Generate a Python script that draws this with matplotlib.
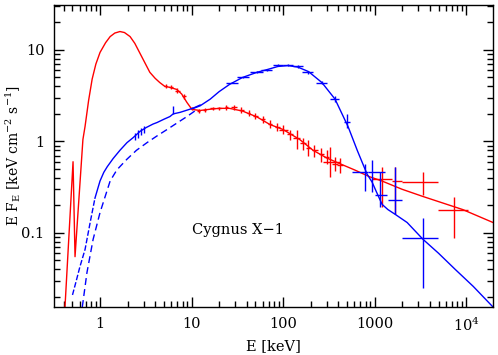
import numpy as np
import matplotlib
matplotlib.use("Agg")
from matplotlib import pyplot as plt
from matplotlib.ticker import LogLocator, FuncFormatter, NullFormatter

plt.rcParams['font.family'] = ['DejaVu Serif']
plt.rcParams['mathtext.fontset'] = 'dejavuserif'

# soft state (red) model curve
E_red = [0.414, 0.507, 0.533, 0.65, 0.686, 0.75, 0.82, 0.9, 1.0, 1.15, 1.29, 1.45, 1.65,
         1.85, 2.13, 2.4, 2.7, 3.1, 3.5, 4.0, 4.5, 5.1, 5.8, 6.9, 7.8, 8.9, 10.1, 12.4,
         16, 20, 26, 36, 52, 72, 100, 152, 213, 300, 420, 600, 890, 1200, 2000, 3390,
         5000, 9200, 19700]
F_red = [0.0155, 0.6, 0.055, 1.05, 1.46, 2.8, 4.8, 7.0, 9.4, 12.0, 14.0, 15.3, 15.9,
         15.5, 14.0, 11.8, 9.4, 7.2, 5.7, 4.9, 4.4, 4.0, 3.9, 3.7, 3.3, 2.67, 2.24, 2.18,
         2.25, 2.3, 2.3, 2.15, 1.85, 1.53, 1.35, 1.05, 0.8, 0.66, 0.57, 0.49, 0.41, 0.37,
         0.3, 0.25, 0.22, 0.18, 0.13]

# soft state data points
E_rc = [5.2, 6.0, 7.0, 8.2, 10, 12, 14, 17, 20, 24, 29, 35, 42, 50, 60, 72, 86, 100,
        120, 142, 165, 188, 220, 260, 300, 327, 370, 420,
        1200, 1675, 3390, 7400]
F_rc = [4.0, 3.9, 3.6, 3.1, 2.3, 2.15, 2.2, 2.3, 2.3, 2.35, 2.35, 2.2, 2.05, 1.9, 1.75,
        1.55, 1.45, 1.35, 1.2, 1.08, 0.95, 0.85, 0.8, 0.72, 0.68, 0.6, 0.57, 0.55,
        0.385, 0.37, 0.36, 0.176]
F_rc_lo = [3.8, 3.7, 3.4, 2.9, 2.2, 2.05, 2.1, 2.2, 2.2, 2.2, 2.2, 2.05, 1.9, 1.75, 1.6,
           1.42, 1.3, 1.2, 1.05, 0.82, 0.8, 0.69, 0.68, 0.6, 0.56, 0.41, 0.47, 0.45,
           0.19, 0.16, 0.26, 0.089]
F_rc_hi = [4.2, 4.1, 3.8, 3.3, 2.4, 2.25, 2.3, 2.4, 2.4, 2.5, 2.5, 2.35, 2.2, 2.05, 1.9,
           1.7, 1.6, 1.5, 1.35, 1.35, 1.1, 1.05, 0.92, 0.85, 0.8, 0.88, 0.68, 0.66,
           0.52, 0.52, 0.46, 0.25]
E_rc_lo = [5.0, 5.7, 6.6, 7.8, 9.5, 11.5, 13.5, 16, 19, 23, 27, 33, 40, 47, 57, 68, 81,
           90, 110, 130, 155, 178, 205, 245, 280, 270, 345, 390,
           940, 1560, 1990, 4920]
E_rc_hi = [5.4, 6.3, 7.4, 8.6, 10.5, 12.5, 14.5, 18, 21, 25, 31, 37, 44, 53, 64, 76, 92,
           112, 130, 155, 178, 200, 240, 280, 320, 420, 400, 450,
           1560, 1990, 4920, 10400]

# hard state (blue) data line at low energies
E_bd = [0.5, 0.55, 0.6, 0.686, 0.78, 0.88, 1.0, 1.1, 1.2, 1.39, 1.65, 1.97, 2.3, 2.74,
        3.2, 3.8, 4.2, 5.0, 5.8, 6.3, 7.5, 9.6, 10.5, 12.4]
F_bd = [0.021, 0.03, 0.042, 0.066, 0.13, 0.24, 0.37, 0.46, 0.53, 0.65, 0.8, 0.97, 1.1,
        1.29, 1.42, 1.55, 1.61, 1.75, 1.87, 2.0, 2.08, 2.25, 2.32, 2.5]

# hard state model (unabsorbed, dashed) at low energies
E_bdm = [0.64, 0.72, 0.84, 1.0, 1.29, 1.53, 1.97, 2.5, 3.26, 4.2, 5.4, 7.0, 8.9, 11.5]
F_bdm = [0.0155, 0.037, 0.085, 0.167, 0.37, 0.49, 0.64, 0.8, 0.97, 1.15, 1.35, 1.6,
         1.87, 2.24]

# hard state model above 10 keV
E_bm = [10.5, 12.4, 16, 20, 26, 36, 52, 67, 88, 113, 145, 190, 266, 370, 514, 650, 828,
        939, 1050, 1210, 1400, 1675, 2270, 3390, 5000, 7600, 12000, 19700]
F_bm = [2.3, 2.45, 2.9, 3.5, 4.2, 5.0, 5.7, 6.1, 6.6, 6.75, 6.5, 5.8, 4.4, 2.9, 1.45,
        0.79, 0.44, 0.36, 0.28, 0.205, 0.18, 0.16, 0.13, 0.085, 0.06, 0.04, 0.026, 0.0155]

# hard state data points
E_bc = [2.4, 2.6, 2.8, 3.0, 6.3, 27.7, 36.6, 52, 67, 88.5, 113, 145, 188, 266, 370, 500,
        787, 940, 1150, 1675, 3390]
F_bc = [1.15, 1.22, 1.3, 1.35, 2.05, 4.4, 5.0, 5.7, 6.1, 6.8, 6.8, 6.6, 5.7, 4.4, 2.9,
        1.65, 0.46, 0.46, 0.26, 0.23, 0.089]
F_bc_lo = [1.05, 1.1, 1.18, 1.25, 2.0, 4.3, 4.9, 5.55, 5.95, 6.6, 6.6, 6.4, 5.5, 4.2,
           2.7, 1.4, 0.29, 0.28, 0.19, 0.16, 0.0253]
F_bc_hi = [1.25, 1.35, 1.42, 1.47, 2.45, 4.5, 5.1, 5.85, 6.25, 7.0, 7.0, 6.8, 5.9, 4.6,
           3.1, 2.0, 0.56, 0.62, 0.46, 0.52, 0.147]
E_bc_lo = [2.4, 2.6, 2.8, 3.0, 6.3, 24, 31, 44, 58, 77, 100, 127, 163, 230, 330, 465,
           570, 850, 1000, 1400, 1990]
E_bc_hi = [2.4, 2.6, 2.8, 3.0, 6.3, 32, 42, 60, 76, 100, 127, 165, 215, 305, 410, 540,
           850, 1300, 1370, 2000, 4920]

RED = '#ff0000'
BLUE = '#0000ff'

fig = plt.figure(figsize=(4.98, 3.55), dpi=100)
ax = fig.add_axes([54 / 498, 48 / 355, 439 / 498, 302 / 355])

ax.plot(E_red, F_red, color=RED, lw=1.0)
ax.errorbar(E_rc, F_rc,
            xerr=[np.subtract(E_rc, E_rc_lo), np.subtract(E_rc_hi, E_rc)],
            yerr=[np.subtract(F_rc, F_rc_lo), np.subtract(F_rc_hi, F_rc)],
            fmt='none', ecolor=RED, elinewidth=1.0, capsize=0)

ax.plot(E_bd[:6], F_bd[:6], color=BLUE, lw=1.0, ls=(0, (4, 1.5)))
ax.plot(E_bd[5:], F_bd[5:], color=BLUE, lw=1.0)
ax.plot(E_bdm, F_bdm, color=BLUE, lw=1.0, ls=(0, (5, 3)))
ax.plot(E_bm, F_bm, color=BLUE, lw=1.0)
ax.errorbar(E_bc, F_bc,
            xerr=[np.subtract(E_bc, E_bc_lo), np.subtract(E_bc_hi, E_bc)],
            yerr=[np.subtract(F_bc, F_bc_lo), np.subtract(F_bc_hi, F_bc)],
            fmt='none', ecolor=BLUE, elinewidth=1.0, capsize=0)

ax.set_xscale('log')
ax.set_yscale('log')
ax.set_xlim(0.314, 19700)
ax.set_ylim(0.0155, 31)

ax.xaxis.set_major_locator(LogLocator(base=10))
ax.yaxis.set_major_locator(LogLocator(base=10))
ax.xaxis.set_minor_locator(LogLocator(base=10, subs=np.arange(2, 10)))
ax.yaxis.set_minor_locator(LogLocator(base=10, subs=np.arange(2, 10)))
ax.xaxis.set_minor_formatter(NullFormatter())
ax.yaxis.set_minor_formatter(NullFormatter())


def xfmt(v, pos):
    if v >= 1e4:
        return r'$10^{%d}$' % round(np.log10(v))
    return '%g' % v


ax.xaxis.set_major_formatter(FuncFormatter(xfmt))
ax.yaxis.set_major_formatter(FuncFormatter(lambda v, p: '%g' % v))

ax.tick_params(which='both', direction='in', top=True, right=True, labelsize=10.5,
               width=1.0, colors='black')
ax.tick_params(which='major', length=7.5)
ax.tick_params(which='minor', length=4)
ax.tick_params(axis='x', pad=7)
ax.tick_params(axis='y', pad=7)
for s in ax.spines.values():
    s.set_linewidth(1.0)

ax.set_xlabel('E [keV]', fontsize=10.5, labelpad=4)
ax.set_ylabel(r'E F$_{\rm E}$ [keV cm$^{-2}$ s$^{-1}$]', fontsize=10)
ax.yaxis.set_label_coords(-0.07, 0.5)

ax.text(10.1, 0.109, 'Cygnus X\u22121', fontsize=10.5, ha='left', va='center')

fig.savefig('out.png', dpi=100)
